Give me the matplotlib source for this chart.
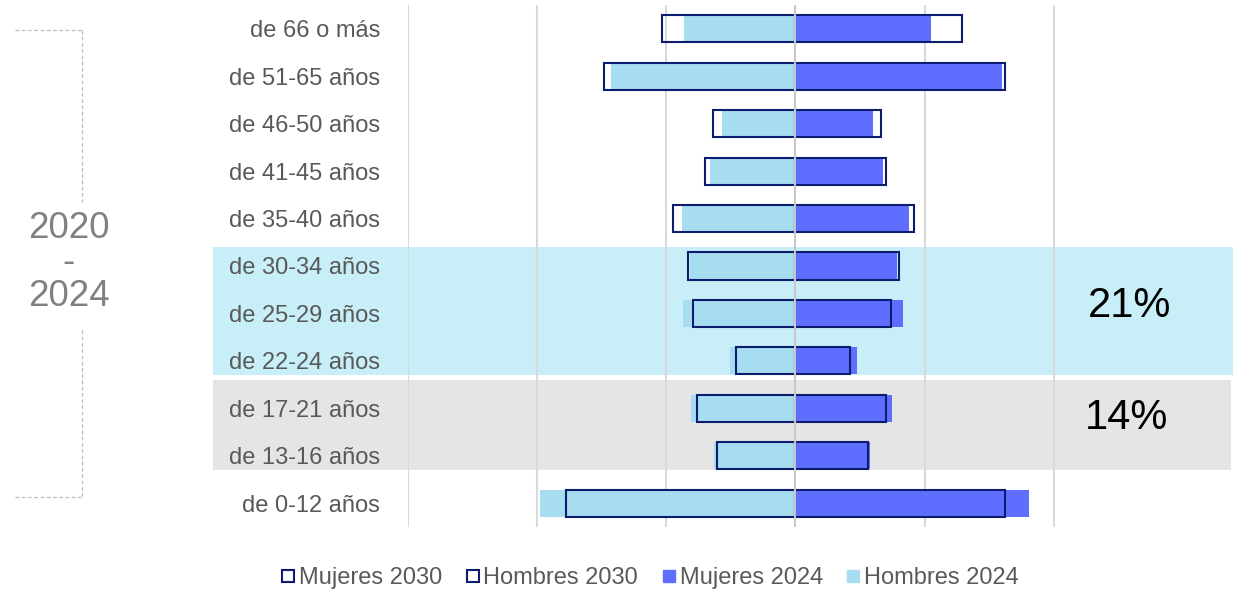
import matplotlib
matplotlib.use('Agg')
import matplotlib.pyplot as plt
from matplotlib.patches import Rectangle
from matplotlib.lines import Line2D
from matplotlib.transforms import blended_transform_factory

plt.rcParams['font.family'] = ['Liberation Sans', 'DejaVu Sans']

# age groups, top to bottom
grupos = ['de 66 o más', 'de 51-65 años', 'de 46-50 años', 'de 41-45 años',
          'de 35-40 años', 'de 30-34 años', 'de 25-29 años', 'de 22-24 años',
          'de 17-21 años', 'de 13-16 años', 'de 0-12 años']

# values in grid units (one gridline = 1)
hombres_2024 = [0.86, 1.43, 0.57, 0.66, 0.88, 0.82, 0.87, 0.51, 0.81, 0.63, 1.98]
hombres_2030 = [1.03, 1.48, 0.64, 0.70, 0.95, 0.83, 0.79, 0.46, 0.76, 0.61, 1.78]
mujeres_2024 = [1.05, 1.60, 0.60, 0.68, 0.88, 0.79, 0.83, 0.48, 0.75, 0.58, 1.81]
mujeres_2030 = [1.29, 1.62, 0.66, 0.70, 0.92, 0.80, 0.74, 0.42, 0.70, 0.56, 1.62]

c_h24 = '#A6DDF0'
c_m24 = '#5F6EFF'
c_navy = '#0E1C6E'
c_text = '#595959'

fig = plt.figure(figsize=(12.35, 5.9), dpi=100)
ax = fig.add_axes([408 / 1235, 1 - 527 / 590, (1055 - 408) / 1235, 522 / 590])

y = list(range(len(grupos)))
h = 0.57

# highlight bands (span behind the labels too)
tr = blended_transform_factory(fig.transFigure, ax.transData)
ax.add_patch(Rectangle((213 / 1235, 4.6), 1020 / 1235, 2.7, transform=tr,
                       color='#C8EEF8', lw=0, clip_on=False, zorder=0))
ax.add_patch(Rectangle((213 / 1235, 7.41), 1018 / 1235, 1.89, transform=tr,
                       color='#E5E5E5', lw=0, clip_on=False, zorder=0))

for gx in [-3, -2, -1, 1, 2]:
    ax.axvline(gx, color='#D9D9D9', lw=1.5, zorder=0.5)

ax.barh(y, [-v for v in hombres_2024], height=h, color=c_h24, zorder=2)
ax.barh(y, mujeres_2024, height=h, color=c_m24, zorder=2)
ax.barh(y, [-v for v in hombres_2030], height=h, fill=False, edgecolor=c_navy, lw=1.5, zorder=3)
ax.barh(y, mujeres_2030, height=h, fill=False, edgecolor=c_navy, lw=1.5, zorder=3)
ax.axvline(0, color='#C8C8C8', lw=1.5, zorder=4)

ax.set_xlim(-3, 2.01)
ax.set_ylim(10.5, -0.5)
ax.set_xticks([])
ax.set_yticks(y)
ax.set_yticklabels(grupos, fontsize=17, color=c_text)
ax.tick_params(axis='y', length=0, pad=20)
for s in ax.spines.values():
    s.set_visible(False)
ax.patch.set_visible(False)

# shares of the highlighted groups
fig.text(1130 / 1235, 1 - 306 / 590, '21%', fontsize=30, ha='center', va='center', color='black')
fig.text(1127 / 1235, 1 - 418 / 590, '14%', fontsize=30, ha='center', va='center', color='black')

# left bracket with period
dash = dict(color='#BFBFBF', lw=0.9, ls=(0, (3, 2)))
fig.add_artist(Line2D([15 / 1235, 82 / 1235], [1 - 30 / 590] * 2, **dash))
fig.add_artist(Line2D([82 / 1235] * 2, [1 - 30 / 590, 1 - 202 / 590], **dash))
fig.add_artist(Line2D([82 / 1235] * 2, [1 - 330 / 590, 1 - 497 / 590], **dash))
fig.add_artist(Line2D([15 / 1235, 82 / 1235], [1 - 497 / 590] * 2, **dash))
for txt, py in [('2020', 228), ('-', 262), ('2024', 297)]:
    fig.text(69 / 1235, 1 - py / 590, txt, fontsize=26.5, color='#808080', ha='center', va='center')

handles = [
    Line2D([], [], ls='', marker='s', ms=9, mfc='white', mec=c_navy, mew=1.5),
    Line2D([], [], ls='', marker='s', ms=9, mfc='white', mec=c_navy, mew=1.5),
    Line2D([], [], ls='', marker='s', ms=9, mfc=c_m24, mec=c_m24),
    Line2D([], [], ls='', marker='s', ms=9, mfc=c_h24, mec=c_h24),
]
labels = ['Mujeres 2030', 'Hombres 2030', 'Mujeres 2024', 'Hombres 2024']
leg = fig.legend(handles, labels, loc='center', bbox_to_anchor=(650 / 1235, 1 - 578 / 590),
                 ncol=4, frameon=False, fontsize=17, handlelength=0.6,
                 handletextpad=0.15, columnspacing=1.0)
for t in leg.get_texts():
    t.set_color(c_text)

fig.savefig('out.png', dpi=100)
